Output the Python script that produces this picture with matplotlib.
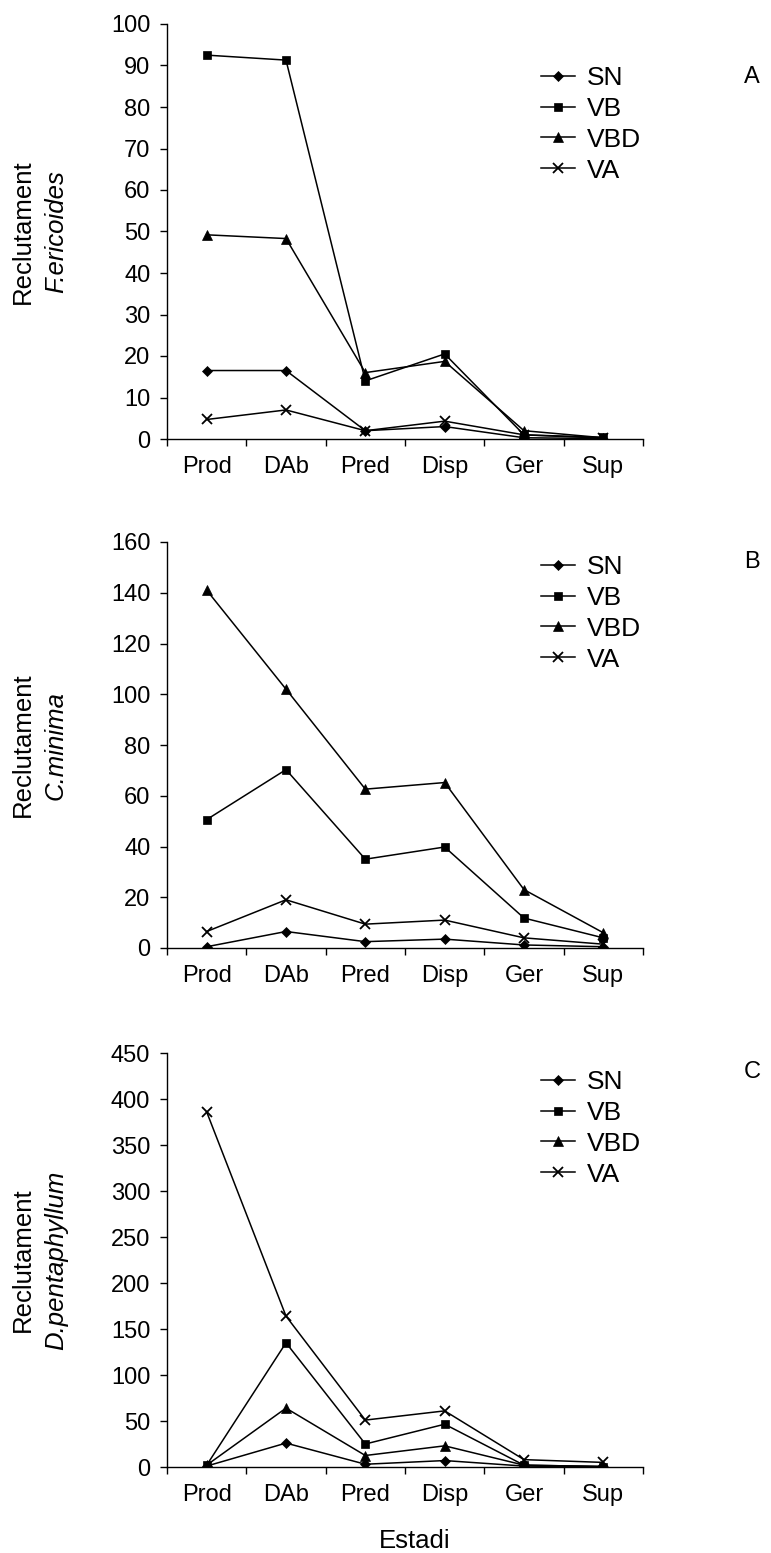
import numpy as np
import matplotlib.pyplot as plt

plt.rcParams['font.family'] = ['Liberation Sans', 'DejaVu Sans']

estadis = ['Prod', 'DAb', 'Pred', 'Disp', 'Ger', 'Sup']
series = ['SN', 'VB', 'VBD', 'VA']

# A - F.ericoides
sn_a = [16.5, 16.5, 2.0, 3.0, 0.3, 0.1]
vb_a = [92.5, 91.3, 14.0, 20.5, 1.0, 0.4]
vbd_a = [49.2, 48.3, 16.0, 18.7, 2.0, 0.3]
va_a = [4.7, 7.0, 2.0, 4.3, 1.0, 0.2]

# B - C.minima
sn_b = [0.5, 6.5, 2.5, 3.5, 1.2, 0.5]
vb_b = [50.6, 70.3, 35.0, 39.8, 11.8, 4.0]
vbd_b = [141.0, 102.0, 62.6, 65.2, 23.0, 6.0]
va_b = [6.5, 19.0, 9.4, 11.0, 4.0, 1.5]

# C - D.pentaphyllum
sn_c = [1.0, 26.0, 3.0, 7.0, 1.0, 0.3]
vb_c = [2.0, 135.0, 25.0, 46.5, 2.0, 0.5]
vbd_c = [2.0, 64.0, 12.5, 23.0, 2.0, 0.5]
va_c = [386.0, 164.0, 51.0, 61.0, 8.0, 5.0]

panells = [
    ('A', 'F.ericoides', [sn_a, vb_a, vbd_a, va_a], 100, 10),
    ('B', 'C.minima', [sn_b, vb_b, vbd_b, va_b], 160, 20),
    ('C', 'D.pentaphyllum', [sn_c, vb_c, vbd_c, va_c], 450, 50),
]

marcadors = {'SN': ('D', 5), 'VB': ('s', 6), 'VBD': ('^', 7), 'VA': ('x', 7)}

W, H = 771, 1553
fig = plt.figure(figsize=(W / 100, H / 100), dpi=100)

# posicions en pixels: (top, bottom, llegenda top, lletra y)
caixes = [(24, 439, 66, 77), (542, 948, 555, 562), (1053, 1467, 1070, 1072)]
x0, x1 = 167, 643
fs = 17

x = np.arange(1, len(estadis) + 1)
for (lletra, especie, dades, ymax, pas), (top, bot, ltop, ly) in zip(panells, caixes):
    ax = fig.add_axes([x0 / W, 1 - bot / H, (x1 - x0) / W, (bot - top) / H])
    for nom, vals in zip(series, dades):
        m, ms = marcadors[nom]
        ax.plot(x, vals, color='black', lw=1.1, marker=m, markersize=ms,
                markeredgewidth=1.3 if m == 'x' else 0.5, label=nom)
    ax.set_xlim(0.5, len(estadis) + 0.5)
    ax.set_ylim(0, ymax)
    ax.set_yticks(np.arange(0, ymax + 1, pas))
    ax.set_xticks(np.arange(0.5, len(estadis) + 1, 1))
    ax.set_xticklabels([])
    ax.set_xticks(x, minor=True)
    ax.set_xticklabels(estadis, minor=True, fontsize=fs)
    ax.tick_params(axis='x', which='minor', length=0, pad=12)
    ax.tick_params(axis='both', which='major', length=5, width=1, direction='out')
    ax.tick_params(axis='y', labelsize=fs, pad=7)
    for s in ['top', 'right']:
        ax.spines[s].set_visible(False)
    for s in ['left', 'bottom']:
        ax.spines[s].set_linewidth(1)
    ax.legend(loc='upper left', bbox_to_anchor=(0.786, (bot - ltop) / (bot - top)),
              frameon=False, fontsize=19, handlelength=1.3, handletextpad=0.45,
              labelspacing=0.26, borderpad=0, borderaxespad=0)
    yc = 1 - (top + bot) / 2 / H
    fig.text(23 / W, yc, 'Reclutament', rotation=90, ha='center', va='center', fontsize=18.5)
    fig.text(56 / W, yc, especie, rotation=90, ha='center', va='center', fontsize=18.5,
             style='italic')
    fig.text(752 / W, 1 - ly / H, lletra, ha='center', va='center', fontsize=fs)

fig.text(415 / W, 1 - 1541 / H, 'Estadi', ha='center', va='center', fontsize=18.5)

fig.savefig('out.png', dpi=100)
